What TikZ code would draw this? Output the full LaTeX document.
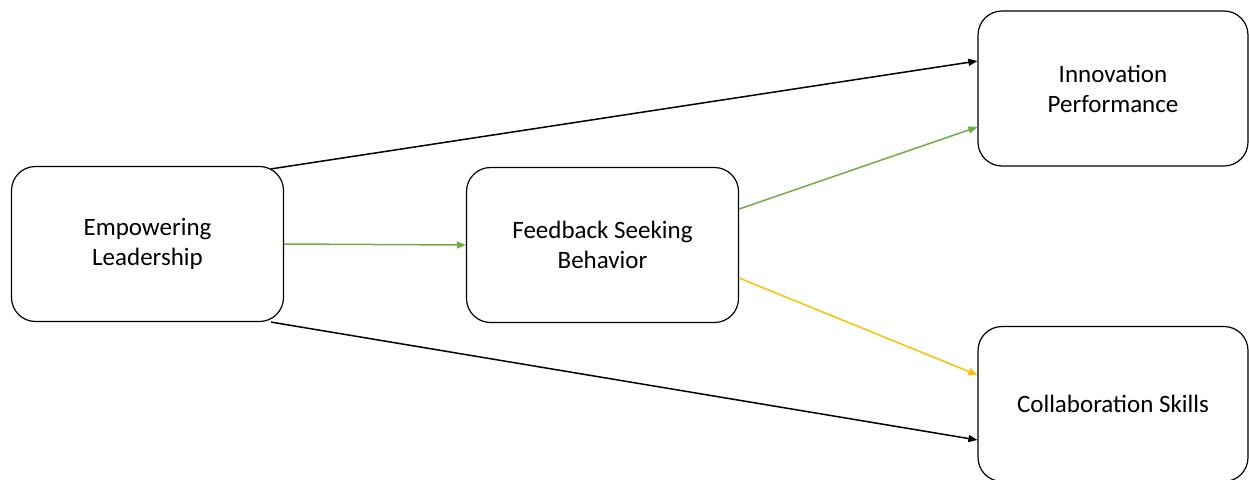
\documentclass[tikz,border=0pt]{standalone}
\usepackage{fontspec}
\setmainfont{Carlito}
\usetikzlibrary{calc,positioning,arrows.meta}

\definecolor{pathgreen}{HTML}{70AD47}
\definecolor{pathyellow}{HTML}{FFC000}

\tikzset{
  factor/.style={draw, rounded corners=24pt, line width=1.2pt, minimum width=272pt,
    minimum height=155pt, align=center, font=\fontsize{25}{30}\selectfont},
  effect/.style={-{Triangle[length=9pt,width=7pt]}, line width=1.5pt},
}

\begin{document}
\begin{tikzpicture}[x=1pt,y=-1pt]
  \useasboundingbox (0,0) rectangle (1249,479);

  \node[factor] at (147.5,244) (emp) {Empowering\\Leadership};
  \node[factor] at (602.5,245) (fsb) {Feedback Seeking\\Behavior};
  \node[factor, minimum width=270pt] at (1113,88.5) (inno) {Innovation\\Performance};
  \node[factor, minimum width=270pt] at (1113,404) (collab) {Collaboration Skills};

  % direct effects
  \draw[effect] ($(emp.north east)+(-13,3)$) -- ($(inno.west)+(0,-27.5)$);
  \draw[effect] ($(emp.south east)+(-13,0)$) -- ($(collab.west)+(0,36)$);

  % mediated paths
  \draw[effect, pathgreen] (emp.east) -- (fsb.west);
  \draw[effect, pathgreen] ($(fsb.east)+(0,-36)$) -- ($(inno.west)+(0,38.5)$);
  \draw[effect, pathyellow] ($(fsb.east)+(0,33)$) -- ($(collab.west)+(0,-29)$);
\end{tikzpicture}
\end{document}
